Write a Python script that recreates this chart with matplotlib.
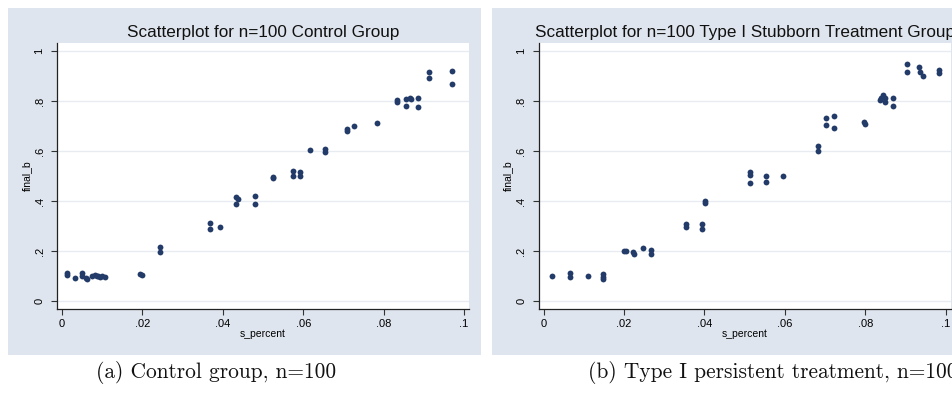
import numpy as np
import matplotlib
matplotlib.use('Agg')
import matplotlib.pyplot as plt
from matplotlib.patches import Rectangle

# control group, n=100
ctrl_x = [0.0013, 0.0013, 0.0032, 0.0049, 0.0049, 0.0059, 0.0062, 0.0074, 0.0082, 0.0086,
          0.0090, 0.0095, 0.0099, 0.0107, 0.0194, 0.0198, 0.0245, 0.0245, 0.0368, 0.0368,
          0.0393, 0.0432, 0.0432, 0.0437, 0.0480, 0.0480, 0.0526, 0.0526, 0.0575, 0.0575,
          0.0592, 0.0592, 0.0617, 0.0654, 0.0654, 0.0708, 0.0708, 0.0727, 0.0783, 0.0833,
          0.0833, 0.0855, 0.0855, 0.0866, 0.0868, 0.0885, 0.0885, 0.0914, 0.0914, 0.0969,
          0.0969]
ctrl_y = [0.112, 0.105, 0.092, 0.113, 0.100, 0.092, 0.088, 0.100, 0.104, 0.102,
          0.100, 0.098, 0.100, 0.097, 0.110, 0.106, 0.217, 0.197, 0.313, 0.290,
          0.297, 0.417, 0.390, 0.410, 0.420, 0.390, 0.497, 0.492, 0.521, 0.500,
          0.515, 0.500, 0.604, 0.608, 0.595, 0.687, 0.681, 0.701, 0.713, 0.804,
          0.797, 0.808, 0.780, 0.813, 0.807, 0.811, 0.776, 0.917, 0.891, 0.921,
          0.868]

# type I stubborn treatment group, n=100
stub_x = [0.0020, 0.0066, 0.0066, 0.0110, 0.0148, 0.0148, 0.0148, 0.0199, 0.0205, 0.0222,
          0.0225, 0.0246, 0.0266, 0.0266, 0.0354, 0.0354, 0.0394, 0.0394, 0.0402, 0.0402,
          0.0513, 0.0513, 0.0514, 0.0553, 0.0553, 0.0595, 0.0683, 0.0683, 0.0702, 0.0702,
          0.0723, 0.0723, 0.0797, 0.0799, 0.0836, 0.0840, 0.0843, 0.0850, 0.0850, 0.0868,
          0.0868, 0.0904, 0.0904, 0.0933, 0.0936, 0.0943, 0.0984, 0.0984]
stub_y = [0.101, 0.111, 0.098, 0.101, 0.108, 0.097, 0.088, 0.201, 0.199, 0.196,
          0.190, 0.211, 0.203, 0.188, 0.308, 0.297, 0.308, 0.287, 0.401, 0.391,
          0.517, 0.504, 0.471, 0.500, 0.477, 0.500, 0.621, 0.600, 0.733, 0.704,
          0.740, 0.691, 0.717, 0.709, 0.804, 0.814, 0.824, 0.813, 0.795, 0.811,
          0.781, 0.947, 0.917, 0.937, 0.917, 0.901, 0.924, 0.911]

x_ticks = [0, 0.02, 0.04, 0.06, 0.08, 0.1]
x_labels = ['0', '.02', '.04', '.06', '.08', '.1']
y_ticks = [0, 0.2, 0.4, 0.6, 0.8, 1]
y_labels = ['0', '.2', '.4', '.6', '.8', '1']

titles = ['Scatterplot for n=100 Control Group',
          'Scatterplot for n=100 Type I Stubborn Treatment Group']
captions = ['(a) Control group, n=100', '(b) Type I persistent treatment, n=100']

W, H = 952, 400
panel_bg = '#dfe5ee'
navy = '#233b68'
sans = 'Liberation Sans'

fig = plt.figure(figsize=(W / 100, H / 100), dpi=100)
fig.patch.set_facecolor('white')


def px(x0, y0, x1, y1):
    # pixel box (top-left origin) -> figure fraction rect
    return [x0 / W, 1 - y1 / H, (x1 - x0) / W, (y1 - y0) / H]


# grey graph regions behind each plot
for x0, x1 in [(8, 481), (492, 960)]:
    r = px(x0, 8, x1, 355)
    fig.patches.append(Rectangle((r[0], r[1]), r[2], r[3], transform=fig.transFigure,
                                 facecolor=panel_bg, edgecolor='none', zorder=-10))

boxes = [(57, 43, 469, 309), (538.7, 43, 950.7, 309)]
data = [(ctrl_x, ctrl_y), (stub_x, stub_y)]
title_cx = [263, 745]

for i in range(2):
    ax = fig.add_axes(px(*boxes[i]))
    ax.set_zorder(1)
    ax.set_facecolor('white')
    xs, ys = data[i]
    ax.plot(xs, ys, 'o', color=navy, ms=4.2, mew=0, zorder=3)

    ax.set_xlim(-0.00124, 0.10124)
    ax.set_ylim(-0.032, 1.032)
    ax.set_xticks(x_ticks)
    ax.set_xticklabels(x_labels, fontsize=8, family=sans)
    ax.set_yticks(y_ticks)
    ax.set_yticklabels(y_labels, fontsize=8, family=sans, rotation=90, va='center')
    ax.tick_params(axis='both', length=4, width=0.8, color='#333333', direction='out')
    ax.tick_params(axis='x', pad=3)
    ax.tick_params(axis='y', pad=5)
    ax.grid(axis='y', color='#e8ecf0', lw=1.0, zorder=0)
    ax.set_axisbelow(True)
    for s in ['top', 'right']:
        ax.spines[s].set_visible(False)
    for s in ['left', 'bottom']:
        ax.spines[s].set_color('#222222')
        ax.spines[s].set_linewidth(0.9)

    ax.set_xlabel('s_percent', fontsize=7.5, family=sans, labelpad=0)
    ax.set_ylabel('final_b', fontsize=7.5, family=sans, labelpad=2)

    fig.text(title_cx[i] / W, 1 - 32 / H, titles[i], ha='center', va='center',
             fontsize=12.3, family=sans, color='#111111')

# subfigure captions, (b) runs off the right edge
fig.text(216 / W, 1 - 372 / H, captions[0], ha='center', va='center',
         fontsize=15.4, family='cmr10', color='#111111')
fig.text(958 / W, 1 - 372 / H, captions[1], ha='right', va='center',
         fontsize=15.4, family='cmr10', color='#111111')

fig.savefig('out.png', dpi=100)
